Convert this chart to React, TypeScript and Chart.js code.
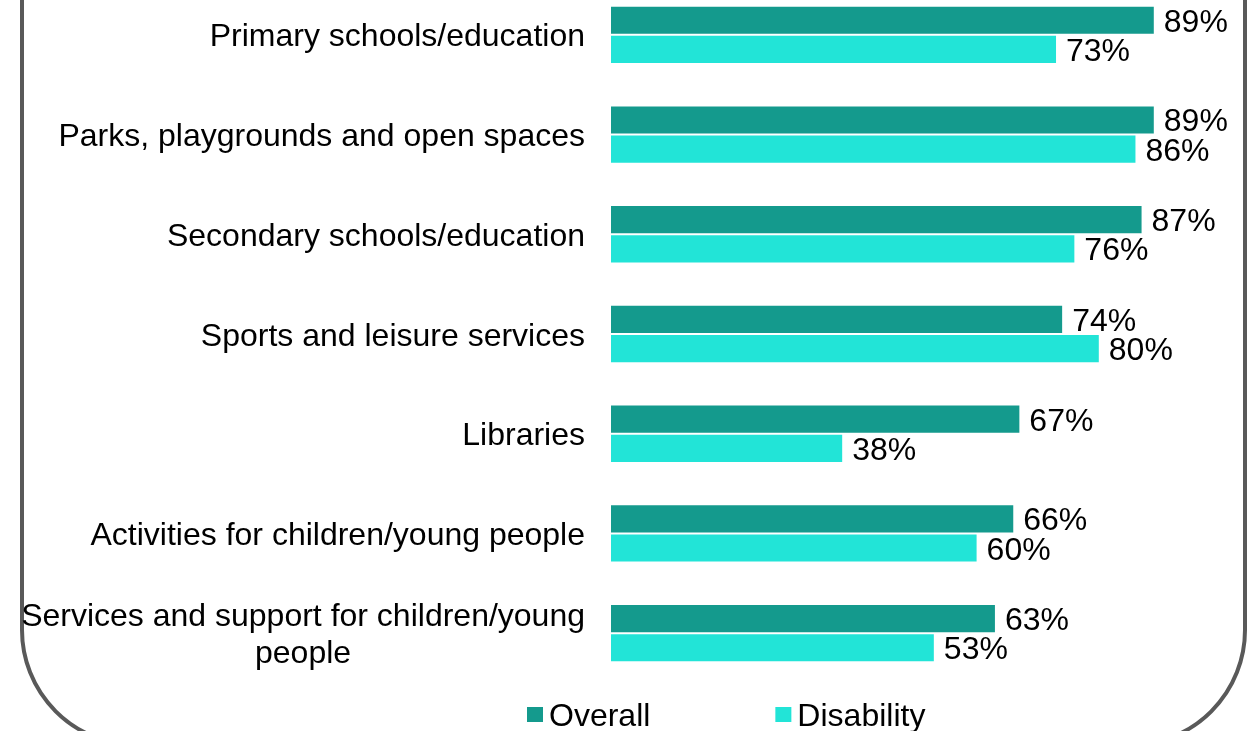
import { useEffect, useRef } from "react";
import { Chart, registerables } from "chart.js";

Chart.register(...registerables);

const categories: (string | string[])[] = [
  "Primary schools/education",
  "Parks, playgrounds and open spaces",
  "Secondary schools/education",
  "Sports and leisure services",
  "Libraries",
  "Activities for children/young people",
  ["Services and support for children/young", "people"],
];
const overallValues = [89, 89, 87, 74, 67, 66, 63];
const disabilityValues = [73, 86, 76, 80, 38, 60, 53];
const seriesLabels = ["Overall", "Disability"];
const seriesColors = ["#149A8D", "#22E4D7"];

const FONT = '32px "Liberation Sans", Arial, sans-serif';

const categoryLabelPlugin = {
  id: "categoryLabels",
  afterDraw(chart: any) {
    const ctx = chart.ctx;
    const yScale = chart.scales.y;
    const rightX = chart.chartArea.left - 26;
    const lineHeight = 37;
    ctx.save();
    ctx.font = FONT;
    ctx.fillStyle = "#000000";
    ctx.textAlign = "center";
    ctx.textBaseline = "alphabetic";
    (chart.data.labels as (string | string[])[]).forEach((label, i) => {
      const lines = Array.isArray(label) ? label : [label];
      const maxW = Math.max(...lines.map((l) => ctx.measureText(l).width));
      const cx = rightX - maxW / 2;
      const cy = yScale.getPixelForValue(i);
      const firstY = cy - ((lines.length - 1) * lineHeight) / 2;
      lines.forEach((line, j) => {
        ctx.fillText(line, cx, firstY + j * lineHeight + 11.5);
      });
    });
    ctx.restore();
  },
};

const valueLabelPlugin = {
  id: "valueLabels",
  afterDatasetsDraw(chart: any) {
    const ctx = chart.ctx;
    ctx.save();
    ctx.font = FONT;
    ctx.fillStyle = "#000000";
    ctx.textAlign = "left";
    ctx.textBaseline = "alphabetic";
    chart.data.datasets.forEach((ds: any, di: number) => {
      const meta = chart.getDatasetMeta(di);
      meta.data.forEach((el: any, i: number) => {
        ctx.fillText(ds.data[i] + "%", el.x + 9, el.y + 11.5);
      });
    });
    ctx.restore();
  },
};

const legendPlugin = {
  id: "customLegend",
  afterDraw(chart: any) {
    const ctx = chart.ctx;
    ctx.save();
    ctx.font = FONT;
    ctx.textAlign = "left";
    ctx.textBaseline = "alphabetic";
    let x = 527;
    const boxTop = chart.chartArea.bottom + 24;
    const baseline = chart.chartArea.bottom + 43;
    chart.data.datasets.forEach((ds: any) => {
      ctx.fillStyle = ds.backgroundColor;
      ctx.fillRect(x, boxTop, 16, 15);
      ctx.fillStyle = "#000000";
      ctx.fillText(ds.label, x + 22, baseline);
      const w = ctx.measureText(ds.label).width;
      x = x + 22 + w + 125;
    });
    ctx.restore();
  },
};

export default function App() {
  const canvasRef = useRef<HTMLCanvasElement | null>(null);

  useEffect(() => {
    if (!canvasRef.current) return;
    const chart = new Chart(canvasRef.current, {
      type: "bar",
      data: {
        labels: categories,
        datasets: [
          {
            label: seriesLabels[0],
            data: overallValues,
            backgroundColor: seriesColors[0],
            borderColor: "#FFFFFF",
            borderWidth: 1,
            categoryPercentage: 0.585,
            barPercentage: 1,
          },
          {
            label: seriesLabels[1],
            data: disabilityValues,
            backgroundColor: seriesColors[1],
            borderColor: "#FFFFFF",
            borderWidth: 1,
            categoryPercentage: 0.585,
            barPercentage: 1,
          },
        ],
      },
      options: {
        indexAxis: "y",
        responsive: false,
        animation: false,
        devicePixelRatio: 1,
        layout: { padding: { left: 0, right: 31, top: 0, bottom: 48 } },
        plugins: {
          legend: { display: false },
          tooltip: { enabled: false },
        },
        scales: {
          x: {
            type: "linear",
            min: 0,
            max: 100,
            display: false,
          },
          y: {
            type: "category",
            grid: { display: false },
            border: { display: false },
            ticks: { display: false },
            afterFit: (scale: any) => {
              scale.width = 611;
            },
          },
        },
      },
      plugins: [valueLabelPlugin, categoryLabelPlugin, legendPlugin],
    });
    return () => chart.destroy();
  }, []);

  return (
    <div
      style={{
        position: "fixed",
        left: 0,
        top: 0,
        width: 1253,
        height: 731,
        overflow: "hidden",
        background: "#FFFFFF",
      }}
    >
      <div
        style={{
          position: "absolute",
          left: 20,
          top: -300,
          width: 1227,
          height: 1047,
          boxSizing: "border-box",
          border: "4px solid #595959",
          borderRadius: 117,
        }}
      />
      <canvas
        ref={canvasRef}
        width={1253}
        height={746}
        style={{ position: "absolute", left: 0, top: -15, width: 1253, height: 746 }}
      />
    </div>
  );
}
